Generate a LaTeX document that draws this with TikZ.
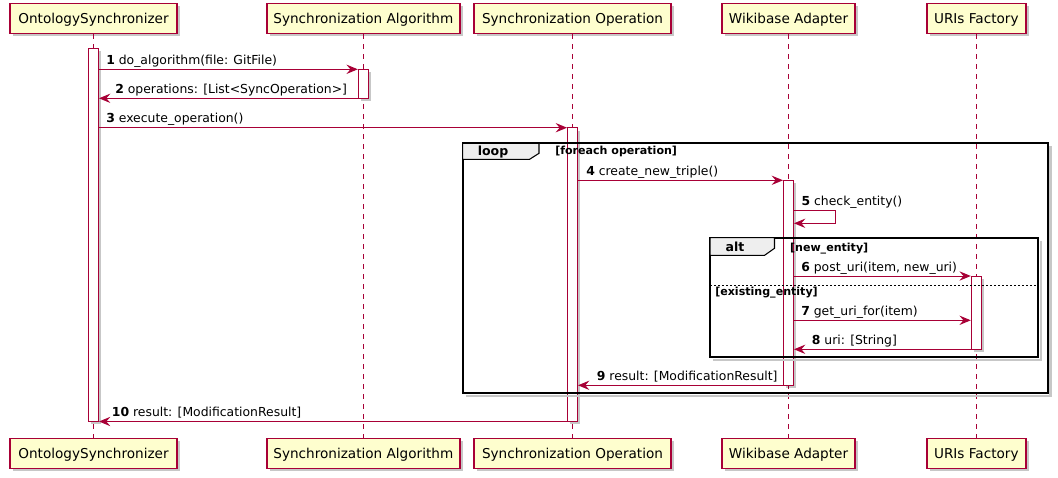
\documentclass[tikz,border=0pt]{standalone}
\usepackage{fontspec}
\setmainfont{DejaVu Sans}
\usetikzlibrary{arrows.meta,fit,shadows}
\definecolor{pu}{HTML}{A80036}
\definecolor{pfill}{HTML}{FEFECE}
\definecolor{tabfill}{HTML}{EEEEEE}
\begin{document}
\begin{tikzpicture}[x=0.75pt,y=-0.75pt,
  shade box/.style={drop shadow={shadow xshift=2.2pt,shadow yshift=-2.2pt,opacity=0.22,fill=black}},
  part/.style={draw=pu,fill=pfill,line width=1.1pt,minimum height=22.5pt,inner sep=0pt,
    text height=0.85em,text depth=0.115em,font=\fontsize{10.2}{12}\selectfont,shade box},
  life/.style={draw=pu,line width=0.75pt,dash pattern=on 3.75pt off 3.75pt},
  act/.style={draw=pu,fill=white,line width=0.75pt,inner sep=0pt,minimum width=7.5pt,shade box},
  msg/.style={draw=pu,line width=0.75pt,-{Stealth[length=8.5pt,width=7pt,inset=3pt]}},
  lbl/.style={anchor=base west,inner sep=0pt,font=\fontsize{9.3}{11}\selectfont},
  frame/.style={draw=black,line width=1.5pt},
  fshadow/.style={draw=black!22,line width=1.6pt},
  tabbox/.style={draw=black,fill=tabfill,line width=0.8pt},
  tabtext/.style={anchor=base,inner sep=0pt,font=\bfseries\fontsize{9.4}{11}\selectfont},
  guard/.style={anchor=base west,inner sep=0pt,font=\bfseries\fontsize{8.3}{10}\selectfont},
]
\useasboundingbox (0,0) rectangle (1058,478);

% participants
\node[part,minimum width=125.3pt] (pOS) at (93.5,18.3) {OntologySynchronizer};
\node[part,minimum width=144.8pt] (pSA) at (363.3,18.3) {Synchronization Algorithm};
\node[part,minimum width=147.8pt] (pSO) at (572.5,18.3) {Synchronization Operation};
\node[part,minimum width=99.8pt] (pWA) at (788.5,18.3) {Wikibase Adapter};
\node[part,minimum width=74.3pt] (pUF) at (976.3,18.3) {URIs Factory};
\node[part,minimum width=125.3pt] (bOS) at (93.5,453.5) {OntologySynchronizer};
\node[part,minimum width=144.8pt] (bSA) at (363.3,453.5) {Synchronization Algorithm};
\node[part,minimum width=147.8pt] (bSO) at (572.5,453.5) {Synchronization Operation};
\node[part,minimum width=99.8pt] (bWA) at (788.5,453.5) {Wikibase Adapter};
\node[part,minimum width=74.3pt] (bUF) at (976.3,453.5) {URIs Factory};

% lifelines
\draw[life] (pOS.south) -- (bOS.north);
\draw[life] (pSA.south) -- (bSA.north);
\draw[life] (pSO.south) -- (bSO.north);
\draw[life] (pWA.south) -- (bWA.north);
\draw[life] (pUF.south) -- (bUF.north);

% activations
\node[act,fit={(93.5,48.3)(93.5,421.5)}] (aOS) {};
\node[act,fit={(363.3,69.3)(363.3,98.3)}] (aSA) {};
\node[act,fit={(572.5,127.7)(572.5,421.5)}] (aSO) {};
\node[act,fit={(788.5,180.3)(788.5,385.3)}] (aWA) {};
\node[act,fit={(976.3,276)(976.3,349.3)}] (aUF) {};

% message levels
\coordinate (y1) at (0,69.3);
\coordinate (y2) at (0,98.3);
\coordinate (y3) at (0,127.7);
\coordinate (y4) at (0,180.3);
\coordinate (c5a) at (835,210.7);
\coordinate (c5b) at (835,223.3);
\coordinate (y6) at (0,276);
\coordinate (y7) at (0,320.3);
\coordinate (y8) at (0,349.3);
\coordinate (y9) at (0,385.3);
\coordinate (y10) at (0,421.5);

% loop frame
\draw[fshadow] (1050.5,146.3) -- (1050.5,396.3) -- (465.6,396.3);
\draw[frame] (462.6,143.3) rectangle (1047.7,393.3);
\draw[tabbox] (462.6,143.3) -- (539,143.3) -- (539,153.3) -- (529.6,159.3) -- (462.6,159.3) -- cycle;
\node[tabtext] (tloop) at (493,155.3) {loop};
\node[guard] (gloop) at (555,155) {[foreach operation]};

% alt frame
\draw[fshadow] (1041,240.7) -- (1041,360.3) -- (713,360.3);
\draw[frame] (710,237.7) rectangle (1038,357.3);
\draw[tabbox] (710,237.7) -- (774.5,237.7) -- (774.5,248.3) -- (764.6,255.3) -- (710,255.3) -- cycle;
\node[tabtext] (talt) at (735,251.5) {alt};
\node[guard] (galt1) at (789.8,251.3) {[new\_entity]};
\draw[black,line width=0.6pt,dash pattern=on 1.5pt off 1.5pt] (710,285.3) -- (1038,285.3);
\node[guard] (galt2) at (715,295.8) {[existing\_entity]};

% messages
\draw[msg] (aOS.east |- y1) -- (aSA.west |- y1);
\node[lbl] (l1) at (106,64.3) {\textbf{1} do\_algorithm(file: GitFile)};
\draw[msg] (aSA.west |- y2) -- (aOS.east |- y2);
\node[lbl] (l2) at (115,93.3) {\textbf{2} operations: [List<SyncOperation>]};
\draw[msg] (aOS.east |- y3) -- (aSO.west |- y3);
\node[lbl] (l3) at (106,122.7) {\textbf{3} execute\_operation()};
\draw[msg] (aSO.east |- y4) -- (aWA.west |- y4);
\node[lbl] (l4) at (586,175.3) {\textbf{4} create\_new\_triple()};
\draw[msg] (aWA.east |- c5a) -- (c5a) -- (c5b) -- (aWA.east |- c5b);
\node[lbl] (l5) at (801.3,205.7) {\textbf{5} check\_entity()};
\draw[msg] (aWA.east |- y6) -- (aUF.west |- y6);
\node[lbl] (l6) at (801,271) {\textbf{6} post\_uri(item, new\_uri)};
\draw[msg] (aWA.east |- y7) -- (aUF.west |- y7);
\node[lbl] (l7) at (801,315.3) {\textbf{7} get\_uri\_for(item)};
\draw[msg] (aUF.west |- y8) -- (aWA.east |- y8);
\node[lbl] (l8) at (811.6,344.3) {\textbf{8} uri: [String]};
\draw[msg] (aWA.west |- y9) -- (aSO.east |- y9);
\node[lbl] (l9) at (596.6,380.3) {\textbf{9} result: [ModificationResult]};
\draw[msg] (aSO.west |- y10) -- (aOS.east |- y10);
\node[lbl] (l10) at (111.7,416.3) {\textbf{10} result: [ModificationResult]};
\end{tikzpicture}
\end{document}
